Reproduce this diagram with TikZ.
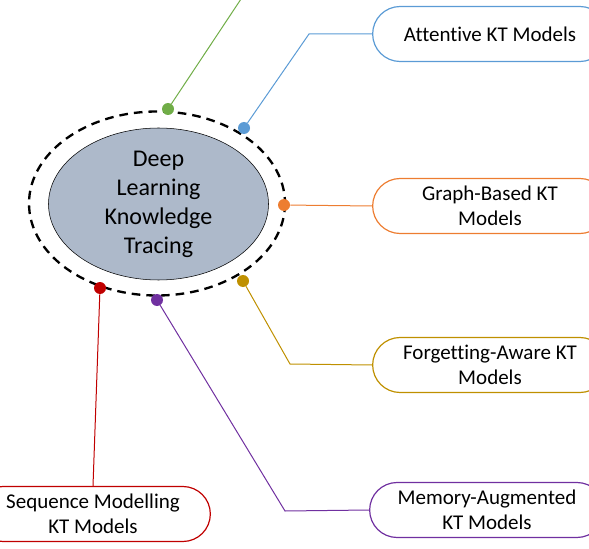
\documentclass[tikz,border=0pt]{standalone}
\usepackage{fontspec}
\setmainfont{Carlito}[Ligatures=CommonOff]
\usetikzlibrary{shapes.geometric}
\definecolor{kgreen}{HTML}{70AD47}
\definecolor{kblue}{HTML}{5B9BD5}
\definecolor{korange}{HTML}{ED7D31}
\definecolor{kgold}{HTML}{BF9000}
\definecolor{kred}{HTML}{C00000}
\definecolor{kpurple}{HTML}{7030A0}
\definecolor{kcore}{HTML}{ADB9CA}
\begin{document}
\begin{tikzpicture}[x=0.75pt,y=-0.75pt,
  branch/.style={draw,rounded corners=20.6pt,minimum width=176pt,minimum height=41.25pt,
    align=center,font=\fontsize{15.75}{18.75}\selectfont,line width=0.9pt},
  pin/.style={circle,fill,inner sep=0pt,minimum size=9pt},
  link/.style={line width=0.75pt}]
\useasboundingbox (0,0) rectangle (589,549);
\node[ellipse,draw,fill=kcore,minimum width=165pt,minimum height=114pt,inner sep=0pt,
  align=center,font=\fontsize{18}{21.75}\selectfont] (core) at (158.5,204) {Deep\\Learning\\Knowledge\\Tracing};
\draw[line width=1.75pt,dash pattern=on 6.5pt off 4.5pt] (157,203.5) ellipse [x radius=128,y radius=92];
\node[branch,kblue,text=black] (att) at (490,34) {Attentive KT Models};
\node[branch,korange,text=black] (graph) at (490,206) {Graph-Based KT\\Models};
\node[branch,kgold,text=black] (forget) at (490,365) {Forgetting-Aware KT\\Models};
\node[branch,kpurple,text=black] (mem) at (487,510) {Memory-Augmented\\KT Models};
\node[branch,kred,text=black] (seq) at (93,514) {Sequence Modelling\\KT Models};
\coordinate (skyward) at (247,-10);
\node[pin,kgreen] (pgreen) at (168,109) {};
\node[pin,kblue] (pblue) at (244,128) {};
\node[pin,korange] (porange) at (284,205) {};
\node[pin,kgold] (pgold) at (243,281) {};
\node[pin,kred] (pred) at (100,288) {};
\node[pin,kpurple] (ppurple) at (157,300) {};
\draw[link,kgreen] (pgreen) -- (skyward);
\draw[link,kblue] (pblue) -- (309,34) -- (att.west);
\draw[link,korange] (porange) -- (graph.west);
\draw[link,kgold] (pgold) -- (290,364) -- (forget.west);
\draw[link,kred] (pred) -- (seq.north);
\draw[link,kpurple] (ppurple) -- (285,511) -- (mem.west);
\end{tikzpicture}
\end{document}
